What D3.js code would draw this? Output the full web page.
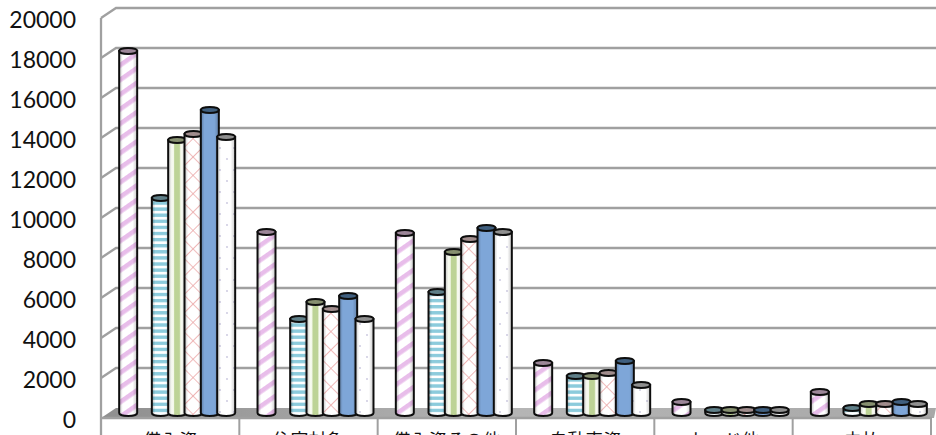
<!DOCTYPE html>
<html><head><meta charset="utf-8">
<script src="https://cdn.jsdelivr.net/npm/d3@7/dist/d3.min.js"></script>
<style>html,body{margin:0;padding:0;background:#fff;overflow:hidden}svg{display:block}</style>
</head><body><svg id="c" width="936" height="435"></svg>
<script>
const categories = ["借入資","住宅対象","借入資その他","自動車資","カード他","未払"];
const tickLabels = [0,2000,4000,6000,8000,10000,12000,14000,16000,18000,20000];
const seriesA = [18100,9050,9000,2500,550,1050];
const seriesGap = [null,null,null,null,null,null];
const seriesB = [10750,4700,6050,1850,150,250];
const seriesC = [13650,5550,8050,1850,150,450];
const seriesD = [13950,5200,8700,2000,150,450];
const seriesE = [15150,5850,9250,2600,150,550];
const seriesF = [13800,4700,9050,1400,150,450];
const allSeries = [seriesA,seriesGap,seriesB,seriesC,seriesD,seriesE,seriesF];
const seriesFill = ["url(#pA)",null,"url(#pB)","url(#pC)","url(#pD)","#7ea6d8","url(#pF)"];
const seriesCap = ["#9c8698",null,"#5f7f88","#87906f","#a08c8c","#3f5f7f","#8f8f8f"];

const W=936,H=435,L=101,R=931,depthX=15,depthY=10,topY=18,floorY=418;
const svg=d3.select("#c");
const defs=svg.append("defs");
defs.append("filter").attr("id","soft").append("feGaussianBlur").attr("stdDeviation",0.55);
function pat(id,w,h,tr){const p=defs.append("pattern").attr("id",id).attr("patternUnits","userSpaceOnUse").attr("width",w).attr("height",h);
  if(tr)p.attr("patternTransform",tr);p.append("rect").attr("width",w).attr("height",h).attr("fill","#fff");return p;}
pat("pA",12,12,"rotate(-35)").append("rect").attr("width",12).attr("height",4.6).attr("fill","#e8bdea");
pat("pB",6,6.1).append("rect").attr("width",6).attr("height",3.4).attr("fill","#8ccbdc");
const gC=defs.append("linearGradient").attr("id","pC");
[[0,"#fff"],[.3,"#f4f8ea"],[.36,"#bdd396"],[.62,"#bdd396"],[.7,"#f6f9ee"],[1,"#fff"]].forEach(s=>gC.append("stop").attr("offset",s[0]).attr("stop-color",s[1]));
const pD=pat("pD",13,13,"rotate(45)");
pD.append("path").attr("d","M0 0H13M0 0V13").attr("stroke","#eba9a9").attr("stroke-width",1.7).attr("fill","none");
const pF=pat("pF",14,22);
pF.append("circle").attr("cx",3).attr("cy",5).attr("r",.9).attr("fill","#c9c6de");
pF.append("circle").attr("cx",10).attr("cy",16).attr("r",.9).attr("fill","#c9c6de");
const shade=defs.append("linearGradient").attr("id","shade");
[[0,"#000",.25],[.2,"#000",0],[.75,"#000",0],[1,"#000",.22]].forEach(s=>shade.append("stop").attr("offset",s[0]).attr("stop-color",s[1]).attr("stop-opacity",s[2]));
const fl=defs.append("linearGradient").attr("id","floorFill");
[[0,"#8f8f8f"],[.5,"#b5b5b5"],[1,"#a8a8a8"]].forEach(s=>fl.append("stop").attr("offset",s[0]).attr("stop-color",s[1]));

const root=svg.append("g").attr("filter","url(#soft)");
const yWall=d3.scaleLinear().domain([0,20000]).range([floorY-depthY,topY-depthY]);
const yBar=d3.scaleLinear().domain([0,20000]).range([413,13]);
const yLabel=d3.scaleLinear().domain([0,20000]).range([420,20]);
const xFront=d3.scaleBand().domain(categories).range([L,R]);
const xBar=d3.scaleBand().domain(categories).range([L+7,R+7]);
const xSlot=d3.scalePoint().domain(d3.range(allSeries.length)).range([-49,49]);
const gray="#a0a0a0";

root.append("polygon").attr("points",[[L,floorY],[L+depthX,floorY-depthY],[W,floorY-depthY],[R+3,floorY]].join(" ")).attr("fill","url(#floorFill)");
tickLabels.filter(v=>v>0).forEach(v=>{
  root.append("path").attr("d",`M${L} ${yWall(v)+depthY}L${L+depthX} ${yWall(v)}H${W}`).attr("fill","none").attr("stroke",gray).attr("stroke-width",2.3);
});
root.append("path").attr("d",`M${L} ${topY}V${H}M${L} ${floorY}H${R+1}`).attr("fill","none").attr("stroke",gray).attr("stroke-width",2.3);
root.selectAll(".tk").data(categories).join("line").attr("class","tk").attr("stroke",gray).attr("stroke-width",2)
  .attr("x1",d=>xFront(d)+xFront.bandwidth()).attr("x2",d=>xFront(d)+xFront.bandwidth()).attr("y1",floorY).attr("y2",H);

const rx=9,ry=3;
allSeries.forEach((vals,si)=>{
  if(!seriesFill[si])return;
  categories.forEach((c,ci)=>{
    const v=vals[ci]; if(v==null)return;
    const cx=xBar(c)+xBar.bandwidth()/2+xSlot(si),yt=yBar(v),yb=yBar(0);
    const d=`M${cx-rx} ${yt}V${yb}A${rx} ${ry} 0 0 0 ${cx+rx} ${yb}V${yt}Z`;
    root.append("path").attr("d",d).attr("fill",seriesFill[si]);
    root.append("path").attr("d",d).attr("fill","url(#shade)").attr("stroke","#111").attr("stroke-width",2);
    root.append("ellipse").attr("cx",cx).attr("cy",yt).attr("rx",rx).attr("ry",ry).attr("fill",seriesCap[si]).attr("stroke","#111").attr("stroke-width",2);
  });
});

const ax=svg.append("g").attr("transform","translate(76,0)").call(d3.axisLeft(yLabel).tickValues(tickLabels).tickSize(0).tickPadding(0).tickFormat(d3.format("d")));
ax.select(".domain").remove();
ax.selectAll("text").attr("font-family","Lato").attr("font-size",23).attr("fill","#111");

svg.selectAll(".cat").data(categories).join("text").attr("class","cat")
  .attr("x",d=>xFront(d)+xFront.bandwidth()/2).attr("y",447).attr("text-anchor","middle")
  .attr("font-family","Noto Sans CJK JP").attr("font-size",18).attr("fill","#111").text(d=>d);
</script></body></html>
